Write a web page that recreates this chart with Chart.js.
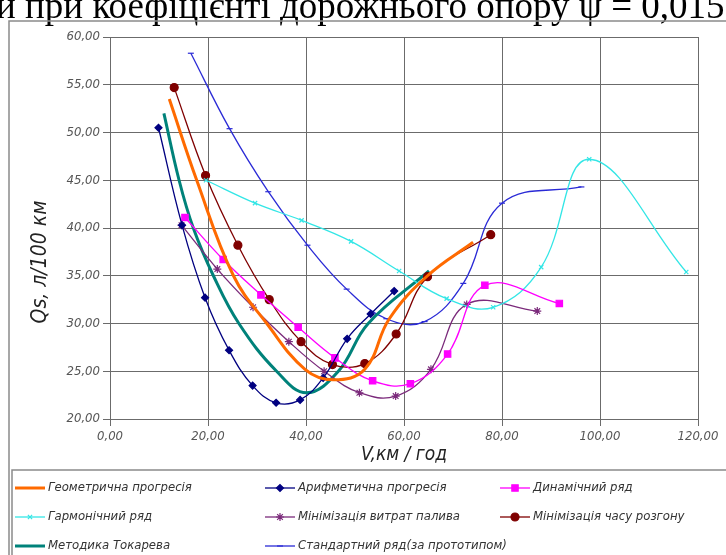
<!DOCTYPE html>
<html>
<head>
<meta charset="utf-8">
<script src="https://cdn.jsdelivr.net/npm/chart.js@4/dist/chart.umd.min.js"></script>
<style>
  html, body { margin: 0; padding: 0; background: #fff; }
  #wrap { position: relative; width: 726px; height: 555px; overflow: hidden; }
</style>
</head>
<body>
<div id="wrap"><canvas id="chart" width="726" height="555"></canvas></div>
<script>
/* Qs vs V — fuel consumption curves for the gear ratio series */

const FONT = "'Liberation Sans Narrow', 'DejaVu Sans Condensed', sans-serif";

const X_TICKS = [0, 20, 40, 60, 80, 100, 120];
const Y_TICKS = [20, 25, 30, 35, 40, 45, 50, 55, 60];

const SERIES_NAMES = [
    "Геометрична прогресія", "Арифметична прогресія", "Динамічний ряд",
    "Гармонічний ряд", "Мінімізація витрат палива", "Мінімізація часу розгону",
    "Методика Токарева", "Стандартний ряд(за прототипом)",
];

const geomX = [12.1, 17.7, 25.2, 32.0, 39.8, 45.6, 52.0, 57.0, 64.8, 74.1];
const geomY = [53.5, 45.0, 35.0, 30.0, 25.2, 24.1, 25.2, 30.5, 35.0, 38.5];

const arithX = [9.9, 14.7, 19.4, 24.3, 29.1, 33.9, 38.8, 43.5, 48.4, 53.2, 58.0];
const arithY = [50.5, 40.3, 32.7, 27.2, 23.5, 21.7, 22.0, 24.3, 28.4, 31.0, 33.4];

const dynX = [15.3, 23.1, 30.8, 38.4, 45.9, 53.6, 61.3, 68.9, 76.5, 91.7];
const dynY = [41.1, 36.7, 33.0, 29.6, 26.4, 24.0, 23.7, 26.8, 34.0, 32.1];

const harmX = [19.6, 29.6, 39.1, 49.2, 59.0, 68.7, 78.2, 88.0, 97.8, 117.6];
const harmY = [45.0, 42.6, 40.8, 38.6, 35.5, 32.6, 31.7, 35.9, 47.2, 35.4];

const fuelX = [14.6, 21.9, 29.2, 36.5, 43.7, 50.9, 58.3, 65.5, 72.8, 87.2];
const fuelY = [40.3, 35.7, 31.7, 28.1, 25.0, 22.75, 22.4, 25.2, 32.0, 31.3];

const accelX = [13.1, 19.5, 26.1, 32.5, 39.0, 45.4, 52.0, 58.4, 64.8, 77.7];
const accelY = [54.7, 45.5, 38.2, 32.5, 28.1, 25.7, 25.8, 28.9, 34.9, 39.3];

const tokX = [11.0, 14.1, 17.0, 21.1, 26.3, 34.0, 40.1, 46.6, 52.7, 65.1];
const tokY = [52.0, 45.0, 40.0, 35.0, 30.0, 25.0, 22.75, 25.0, 30.0, 35.5];

const stdX = [16.5, 24.4, 32.3, 40.3, 48.3, 56.4, 64.2, 72.1, 80.0, 96.2];
const stdY = [58.3, 50.4, 43.8, 38.2, 33.6, 30.5, 30.2, 34.2, 42.6, 44.3];

const pts = (xs, ys) => xs.map((x, i) => ({ x, y: ys[i] }));
const fmt = (v) => v.toFixed(2).replace(".", ",");

function series(i, xs, ys, color, width, style, radius) {
    return {
        label: SERIES_NAMES[i],
        data: pts(xs, ys),
        borderColor: color,
        backgroundColor: color,
        borderWidth: width,
        pointStyle: style || false,
        pointRadius: style ? radius : 0,
        pointBorderWidth: 1.2,
        tension: 0.4,
    };
}

const datasets = [
    series(0, geomX, geomY, "#ff6a00", 3, null, 0),
    series(1, arithX, arithY, "#000080", 1.3, "rectRot", 3.5),
    series(2, dynX, dynY, "#ff00ff", 1.3, "rect", 4.5),
    series(3, harmX, harmY, "#33e6e6", 1.3, "crossRot", 3),
    series(4, fuelX, fuelY, "#7b2a7b", 1.3, "star", 4),
    series(5, accelX, accelY, "#7f0000", 1.3, "circle", 4),
    series(6, tokX, tokY, "#00827a", 3, null, 0),
    series(7, stdX, stdY, "#2a2ad6", 1.3, "line", 3),
];

/* page title line, frame, axis titles and boxed legend */
const decor = {
    id: "decor",
    beforeDraw(chart) {
        const c = chart.ctx;
        c.save();
        c.fillStyle = "#fff";
        c.fillRect(0, 0, chart.width, chart.height);
        c.fillStyle = "#000";
        c.font = "37px 'Liberation Serif', 'DejaVu Serif', serif";
        c.textBaseline = "alphabetic";
        c.fillText("и при коефіцієнті дорожнього опору ψ = 0,015", -4, 18);
        c.strokeStyle = "#8a8a8a";
        c.lineWidth = 1.5;
        c.strokeRect(9, 21, 730, 540);
        c.restore();
    },
    afterDraw(chart) {
        const c = chart.ctx;
        const a = chart.chartArea;
        c.save();
        c.fillStyle = "#222";
        c.font = "italic 19px " + FONT;
        c.textAlign = "center";
        c.textBaseline = "middle";
        c.fillText("V,км / год", (a.left + a.right) / 2, 455);
        c.translate(41, 262);
        c.rotate(-Math.PI / 2);
        c.font = "italic 21px " + FONT;
        c.fillText("Qs, л/100 км", 0, 0);
        c.restore();

        c.save();
        c.strokeStyle = "#8a8a8a";
        c.lineWidth = 1.5;
        c.strokeRect(12, 470, 730, 100);
        const colX = [15, 265, 500];
        const rowY = [488, 517, 546];
        c.font = "italic 13px " + FONT;
        c.textBaseline = "middle";
        chart.data.datasets.forEach((ds, i) => {
            const x = colX[i % 3];
            const y = rowY[Math.floor(i / 3)];
            c.strokeStyle = ds.borderColor;
            c.fillStyle = ds.borderColor;
            c.lineWidth = ds.borderWidth;
            c.beginPath();
            c.moveTo(x, y);
            c.lineTo(x + 30, y);
            c.stroke();
            if (ds.pointStyle && Chart.helpers && Chart.helpers.drawPoint) {
                c.lineWidth = 1.2;
                Chart.helpers.drawPoint(c, {
                    pointStyle: ds.pointStyle, radius: ds.pointRadius, borderWidth: 1.2, rotation: 0,
                }, x + 15, y);
            }
            c.fillStyle = "#333";
            c.fillText(ds.label, x + 33, y);
        });
        c.restore();
    },
};

new Chart(document.getElementById("chart"), {
    type: "line",
    data: { datasets },
    plugins: [decor],
    options: {
        responsive: false,
        devicePixelRatio: 1,
        animation: false,
        layout: { padding: { left: 0, top: 37, right: 28, bottom: 90 } },
        scales: {
            x: {
                type: "linear",
                min: X_TICKS[0],
                max: X_TICKS[X_TICKS.length - 1],
                afterFit: (s) => { s.height = 46; },
                afterBuildTicks: (s) => { s.ticks = X_TICKS.map((v) => ({ value: v })); },
                grid: { color: "#6b6b6b", lineWidth: 1, tickLength: 7 },
                border: { color: "#6b6b6b" },
                ticks: {
                    color: "#555",
                    padding: 3,
                    maxRotation: 0,
                    font: { family: FONT, size: 13, style: "italic" },
                    callback: (v) => fmt(v),
                },
            },
            y: {
                min: Y_TICKS[0],
                max: Y_TICKS[Y_TICKS.length - 1],
                afterFit: (s) => { s.width = 110; },
                afterBuildTicks: (s) => { s.ticks = Y_TICKS.map((v) => ({ value: v })); },
                grid: { color: "#6b6b6b", lineWidth: 1, tickLength: 7 },
                border: { color: "#6b6b6b" },
                ticks: {
                    color: "#555",
                    padding: 3,
                    font: { family: FONT, size: 13, style: "italic" },
                    callback: (v) => fmt(v),
                },
            },
        },
        plugins: {
            legend: { display: false },
            tooltip: { enabled: false },
        },
    },
});
</script>
</body>
</html>
